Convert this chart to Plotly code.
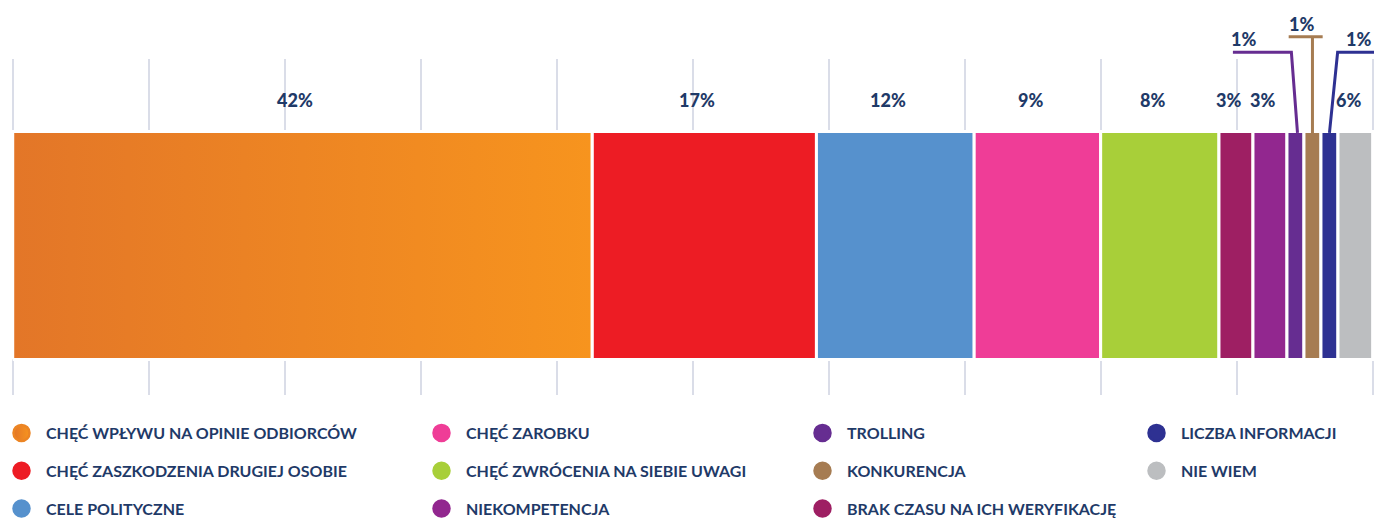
import plotly.graph_objects as go

# ---- data ----
categories = [
    "CHĘĆ WPŁYWU NA OPINIE ODBIORCÓW",
    "CHĘĆ ZASZKODZENIA DRUGIEJ OSOBIE",
    "CELE POLITYCZNE",
    "CHĘĆ ZAROBKU",
    "CHĘĆ ZWRÓCENIA NA SIEBIE UWAGI",
    "BRAK CZASU NA ICH WERYFIKACJĘ",
    "NIEKOMPETENCJA",
    "TROLLING",
    "KONKURENCJA",
    "LICZBA INFORMACJI",
    "NIE WIEM",
]
# segment widths as drawn in the picture (percent of bar length)
widths = [42.6, 16.5, 11.6, 9.3, 8.7, 2.5, 2.5, 1.25, 1.25, 1.25, 2.55]
# printed labels
labels = ["42%", "17%", "12%", "9%", "8%", "3%", "3%", "1%", "1%", "1%", "6%"]

colors = ["#ec8524", "#ed1c24", "#5691cd", "#ef3d97", "#a8cf39", "#9e1f63",
          "#92278f", "#662d91", "#a67c52", "#2e3192", "#bcbec0"]
grad_left, grad_right = "#e37628", "#f7941e"

# legend columns (indices into categories)
legend_cols = [[0, 1, 2], [3, 4, 6], [7, 8, 5], [9, 10]]

TXT = "#1f3a68"
FONT = "Lato"

starts = []
acc = 0.0
for w in widths:
    starts.append(acc)
    acc += w
centers = [s + w / 2 for s, w in zip(starts, widths)]

fig = go.Figure()

# bars (all except first, which gets a gradient fill)
for i in range(1, len(categories)):
    fig.add_trace(go.Bar(
        x=[widths[i]], y=[0], base=[starts[i]], orientation="h", width=1,
        marker=dict(color=colors[i], line=dict(color="white", width=3)),
        name=categories[i], showlegend=False, hoverinfo="name+x",
    ))

# first segment with horizontal gradient
x0, x1 = starts[0], starts[0] + widths[0]
fig.add_trace(go.Scatter(
    x=[x0, x1, x1, x0, x0], y=[-0.5, -0.5, 0.5, 0.5, -0.5],
    mode="lines", fill="toself",
    line=dict(color="white", width=3),
    fillgradient=dict(type="horizontal",
                      colorscale=[[0, grad_left], [1, grad_right]]),
    name=categories[0], showlegend=False, hoverinfo="name",
))

# legend-only entries
lg_names = ["legend", "legend2", "legend3", "legend4"]
for c, col in enumerate(legend_cols):
    for i in col:
        mk = dict(color=colors[i], size=16, symbol="circle",
                  line=dict(color=colors[i], width=2.5))
        if i == 0:
            mk = dict(color=grad_left, size=16, symbol="circle",
                      gradient=dict(type="horizontal", color=grad_right),
                      line=dict(color=colors[0], width=2.5))
        fig.add_trace(go.Scatter(
            x=[None], y=[None], mode="markers", marker=mk,
            name=categories[i], legend=lg_names[c], legendgroup=categories[i],
            showlegend=True,
        ))

lab_font = dict(family=FONT, size=18, color=TXT, weight=900)

# main value labels
small = {7, 8, 9}
annotations = []
for i, lab in enumerate(labels):
    if i in small:
        continue
    annotations.append(dict(
        x=centers[i], y=0.878, xref="x", yref="paper", text=lab,
        showarrow=False, xshift=-7, xanchor="center", yanchor="middle",
        font=lab_font,
    ))

shapes = []
y_bar_top = 0.78
# trolling leader
c = centers[7]
shapes.append(dict(type="path", xref="x", yref="paper",
                   path=f"M {c + 0.15} {y_bar_top} L {c - 0.3} 1.02 L {c - 4.6} 1.02",
                   line=dict(color=colors[7], width=3)))
annotations.append(dict(x=c - 3.8, y=1.0595, xref="x", yref="paper", text=labels[7],
                        showarrow=False, xanchor="center", yanchor="middle",
                        font=lab_font))
# konkurencja leader (T)
c = centers[8]
shapes.append(dict(type="path", xref="x", yref="paper",
                   path=f"M {c} {y_bar_top} L {c} 1.066 M {c - 1.75} 1.066 L {c + 0.75} 1.066",
                   line=dict(color=colors[8], width=3)))
annotations.append(dict(x=c - 0.8, y=1.104, xref="x", yref="paper", text=labels[8],
                        showarrow=False, xanchor="center", yanchor="middle",
                        font=lab_font))
# liczba informacji leader
c = centers[9]
shapes.append(dict(type="path", xref="x", yref="paper",
                   path=f"M {c} {y_bar_top} L {c + 0.6} 1.02 L {c + 3.5} 1.02",
                   line=dict(color=colors[9], width=3)))
annotations.append(dict(x=c + 2.15, y=1.0595, xref="x", yref="paper", text=labels[9],
                        showarrow=False, xanchor="center", yanchor="middle",
                        font=lab_font))

# legends layout
ML, PW = 10, 1364
legend_text_px = [46, 466, 847, 1181]
leg_common = dict(
    orientation="v", yanchor="top", xanchor="left", y=-0.0625,
    font=dict(family=FONT, size=16, color=TXT, weight="bold"),
    bgcolor="rgba(0,0,0,0)", itemwidth=39, tracegroupgap=14,
    itemclick=False, itemdoubleclick=False,
)
leg_layout = {}
for k, nm in enumerate(lg_names):
    leg_layout[nm] = dict(leg_common, x=(legend_text_px[k] - 49 - ML) / PW)

fig.update_layout(
    width=1374, height=520,
    margin=dict(l=ML, r=0, t=59, b=125, autoexpand=False),
    plot_bgcolor="white", paper_bgcolor="white",
    barmode="overlay",
    xaxis=dict(range=[-0.2, 100.1], tickvals=[0, 10, 20, 30, 40, 50, 60, 70, 80, 90, 100],
               showticklabels=False, showgrid=True,
               gridcolor="#dadde8", gridwidth=2, zeroline=False, showline=False,
               fixedrange=True),
    yaxis=dict(range=[-0.6557, 0.818], showticklabels=False, showgrid=False,
               zeroline=False, fixedrange=True),
    annotations=annotations,
    shapes=shapes,
    **leg_layout,
)

fig.write_html("out.html", config={"displayModeBar": False},
               post_script="document.body.style.margin='0';")
